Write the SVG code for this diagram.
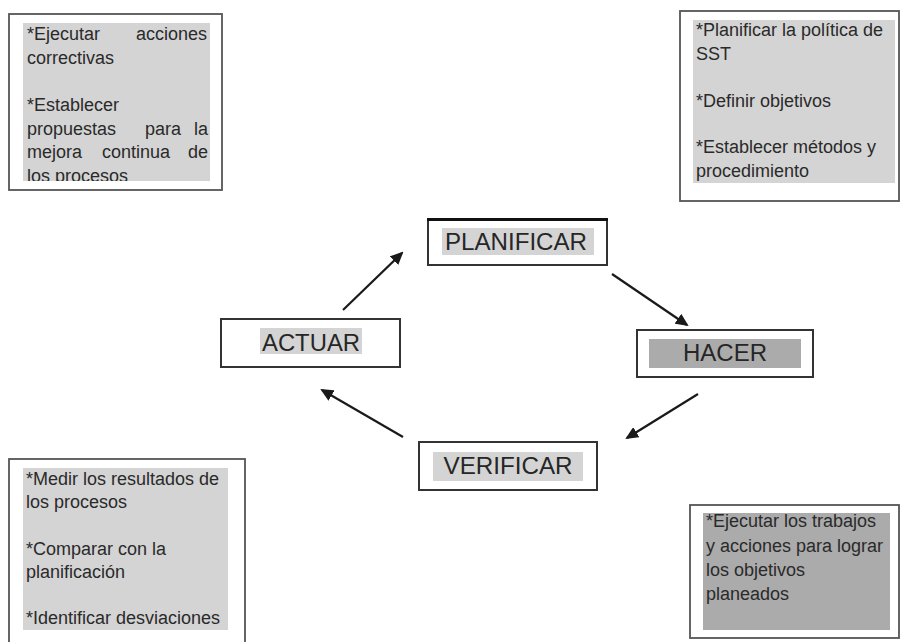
<svg xmlns="http://www.w3.org/2000/svg" width="900" height="642" viewBox="0 0 900 642">
<style>
.outer{fill:#fff;stroke:#555;stroke-width:1.8}
.light{fill:#d4d4d4}
.dark{fill:#ababab}
.txt{font-family:"Liberation Sans",Arial,sans-serif;font-size:18px;fill:#2a2a2a}
.node{fill:#fff;stroke:#333;stroke-width:2}
.lbl{font-family:"Liberation Sans",Arial,sans-serif;font-size:23px;fill:#262626;text-anchor:middle}
.arrow{stroke:#1a1a1a;stroke-width:2.2;fill:none;marker-end:url(#ah)}
</style>
<defs>
<marker id="ah" markerWidth="13" markerHeight="12" refX="11" refY="6" orient="auto" markerUnits="userSpaceOnUse" viewBox="0 0 13 12">
<path d="M0,0 L13,6 L0,12 z" fill="#1a1a1a"/>
</marker>
<clipPath id="clipTL"><rect x="23" y="23" width="187" height="158"/></clipPath>
</defs>
<rect width="900" height="642" fill="#fff"/>

<g id="note-actuar">
<rect class="outer" x="9" y="14" width="213" height="176"/>
<rect class="light" x="23" y="23" width="187" height="158"/>
<g clip-path="url(#clipTL)" class="txt">
<text x="27" y="40">*Ejecutar</text>
<text x="207" y="40" text-anchor="end">acciones</text>
<text x="27" y="64">correctivas</text>
<text x="27" y="111">*Establecer</text>
<text x="27" y="135">propuestas</text>
<text x="145" y="135">para</text>
<text x="208" y="135" text-anchor="end">la</text>
<text x="27" y="158">mejora</text>
<text x="102" y="158">continua</text>
<text x="208" y="158" text-anchor="end">de</text>
<text x="27" y="182">los procesos</text>
</g>
</g>

<g id="note-planificar">
<rect class="outer" x="680" y="11" width="219" height="190"/>
<rect class="light" x="693" y="20" width="202" height="163"/>
<g class="txt">
<text x="696" y="36">*Planificar la política de</text>
<text x="696" y="60">SST</text>
<text x="696" y="107">*Definir objetivos</text>
<text x="696" y="153">*Establecer métodos y</text>
<text x="696" y="177">procedimiento</text>
</g>
</g>

<g id="note-verificar">
<rect class="outer" x="9" y="459" width="236" height="190"/>
<rect class="light" x="23" y="468" width="205" height="162"/>
<g class="txt">
<text x="26" y="485">*Medir los resultados de</text>
<text x="26" y="508">los procesos</text>
<text x="26" y="555">*Comparar con la</text>
<text x="26" y="578">planificación</text>
<text x="26" y="624">*Identificar desviaciones</text>
</g>
</g>

<g id="note-hacer">
<rect class="outer" x="690" y="505" width="209" height="133"/>
<rect class="dark" x="703" y="513" width="187" height="117"/>
<g class="txt">
<text x="706" y="527">*Ejecutar los trabajos</text>
<text x="706" y="552">y acciones para lograr</text>
<text x="706" y="576">los objetivos</text>
<text x="706" y="600">planeados</text>
</g>
</g>

<g id="planificar">
<rect class="node" x="428" y="219" width="179" height="46"/>
<line x1="427" y1="219.5" x2="608" y2="219.5" stroke="#111" stroke-width="3"/>
<rect class="light" x="442" y="228" width="152" height="27"/>
<text class="lbl" x="516" y="250" textLength="142" lengthAdjust="spacingAndGlyphs">PLANIFICAR</text>
</g>

<g id="hacer">
<rect class="node" x="637" y="330" width="176" height="47"/>
<rect class="dark" x="649" y="339" width="152" height="29"/>
<text class="lbl" x="725" y="361" textLength="84" lengthAdjust="spacingAndGlyphs">HACER</text>
</g>

<g id="verificar">
<rect class="node" x="419" y="442" width="178" height="48"/>
<rect class="light" x="433" y="452" width="150" height="29"/>
<text class="lbl" x="508" y="474" textLength="129" lengthAdjust="spacingAndGlyphs">VERIFICAR</text>
</g>

<g id="actuar">
<rect class="node" x="221" y="319" width="179" height="48"/>
<rect class="light" x="260" y="328" width="102" height="26"/>
<text class="lbl" x="311" y="351" textLength="98" lengthAdjust="spacingAndGlyphs">ACTUAR</text>
</g>

<g id="connectors">
<line class="arrow" x1="343" y1="310" x2="402" y2="253"/>
<line class="arrow" x1="612" y1="274" x2="687" y2="325"/>
<line class="arrow" x1="698" y1="394" x2="627" y2="438"/>
<line class="arrow" x1="403" y1="437" x2="322" y2="390"/>
</g>
</svg>
